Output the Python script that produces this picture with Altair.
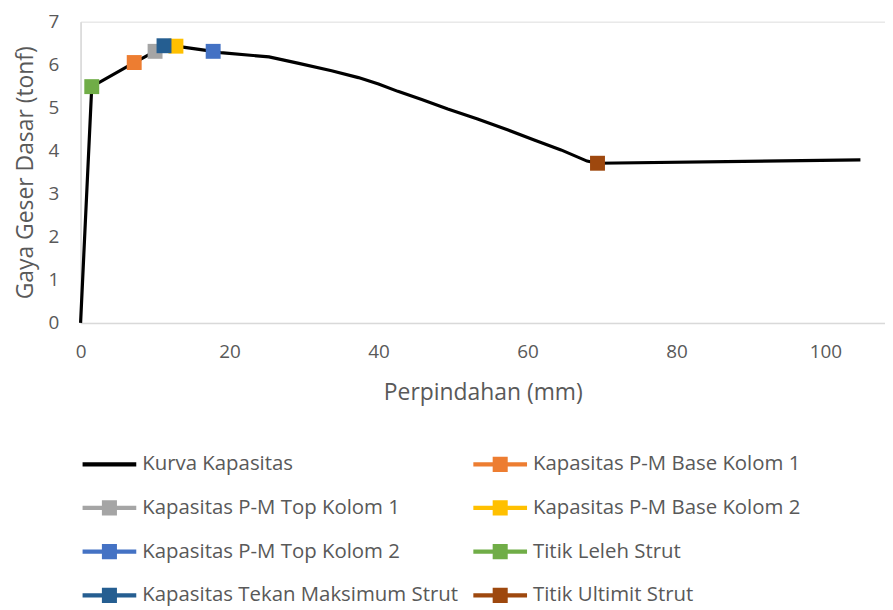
import altair as alt
import pandas as pd

# capacity curve (mm, tonf)
curve_x = [0, 1.5, 7.2, 10.0, 11.2, 12.8, 17.8, 18.8, 25.3, 29.3, 33.7, 37.3, 40.0, 42.6, 45.8,
           49.3, 53.3, 57.4, 60.9, 64.5, 68.0, 69.4, 104.7]
curve_y = [0, 5.49, 6.05, 6.31, 6.44, 6.43, 6.31, 6.28, 6.18, 6.03, 5.86, 5.70, 5.55, 5.38, 5.19,
           4.97, 4.74, 4.48, 4.25, 4.02, 3.76, 3.71, 3.79]

series_names = [
    "Kurva Kapasitas",
    "Kapasitas P-M Base Kolom 1",
    "Kapasitas P-M Top Kolom 1",
    "Kapasitas P-M Base Kolom 2",
    "Kapasitas P-M Top Kolom 2",
    "Titik Leleh Strut",
    "Kapasitas Tekan Maksimum Strut",
    "Titik Ultimit Strut",
]
series_colors = ["#000000", "#ED7D31", "#A5A5A5", "#FFC000", "#4472C4", "#70AD47", "#255E91", "#9E480E"]

marker_names = series_names[1:]
marker_x = [7.2, 10.0, 12.8, 17.8, 1.5, 11.2, 69.4]
marker_y = [6.05, 6.31, 6.43, 6.31, 5.49, 6.44, 3.71]

x_ticks = [0, 20, 40, 60, 80, 100]
y_ticks = [0, 1, 2, 3, 4, 5, 6, 7]

FONT = "Open Sans"
GRAY = "#595959"

# legend fills column-wise: reorder so it reads row-wise like the reference
legend_order = [0, 2, 4, 6, 1, 3, 5, 7]
legend_names = [series_names[i] for i in legend_order]
legend_colors = [series_colors[i] for i in legend_order]

curve_df = pd.DataFrame({"x": curve_x, "y": curve_y})
marker_df = pd.DataFrame({"series": marker_names, "x": marker_x, "y": marker_y,
                          "order": list(range(len(marker_names)))})
legend_df = pd.DataFrame({"series": legend_names, "x": [0] * len(legend_names), "y": [0] * len(legend_names)})

line_path = "M-1,-0.075H1V0.075H-1Z"
line_sq_path = "M-1,-0.075H1V0.075H-1Z M-0.28,-0.28H0.28V0.28H-0.28Z"
shape_range = [line_path if n == "Kurva Kapasitas" else line_sq_path for n in legend_names]

xscale = alt.Scale(domain=[0, 108], nice=False, zero=True)
yscale = alt.Scale(domain=[0, 7], nice=False)

xaxis = alt.Axis(values=x_ticks, title="Perpindahan (mm)", grid=False, ticks=False,
                 domainColor="#D9D9D9", domainWidth=1.5, labelFontSize=19, labelColor=GRAY,
                 labelFont=FONT, titleFont=FONT, titleFontSize=23, titleColor=GRAY,
                 titleFontWeight="normal", labelPadding=20, titlePadding=20, labelFlush=False)
yaxis = alt.Axis(values=y_ticks, title="Gaya Geser Dasar (tonf)", grid=False, ticks=False,
                 domainColor="#D9D9D9", domainWidth=1.5, labelFontSize=19, labelColor=GRAY,
                 labelFont=FONT, titleFont=FONT, titleFontSize=23, titleColor=GRAY,
                 titleFontWeight="normal", labelPadding=22, titlePadding=10, labelFlush=False)

line = alt.Chart(curve_df).mark_line(color="black", strokeWidth=3.2).encode(
    x=alt.X("x:Q", scale=xscale, axis=xaxis),
    y=alt.Y("y:Q", scale=yscale, axis=yaxis),
)

markers = alt.Chart(marker_df).mark_point(shape="square", filled=True, size=225, opacity=1).encode(
    x=alt.X("x:Q", scale=xscale),
    y=alt.Y("y:Q", scale=yscale),
    color=alt.Color("series:N", scale=alt.Scale(domain=legend_names, range=legend_colors), legend=None),
    order=alt.Order("order:Q"),
)

leg = dict(orient="none", legendX=2, legendY=418, columns=2, title=None,
           symbolSize=2916, symbolStrokeWidth=0, symbolOpacity=1,
           labelFontSize=20.5, labelFont=FONT, labelColor=GRAY,
           labelOffset=6, columnPadding=15, rowPadding=6, labelLimit=400)

legend_layer = alt.Chart(legend_df).mark_point(filled=True, opacity=0, size=1).encode(
    x=alt.X("x:Q", scale=xscale),
    y=alt.Y("y:Q", scale=yscale),
    color=alt.Color("series:N", scale=alt.Scale(domain=legend_names, range=legend_colors),
                    legend=alt.Legend(**leg)),
    shape=alt.Shape("series:N", scale=alt.Scale(domain=legend_names, range=shape_range),
                    legend=alt.Legend(**leg)),
)

chart = alt.layer(line, legend_layer, markers).properties(
    width=809, height=303,
    autosize=alt.AutoSizeParams(type="none"),
    padding={"left": 73, "top": 12, "right": 0, "bottom": 287},
).configure_view(stroke=None).configure(background="white")

chart.save("out.html", embed_options={"renderer": "svg", "actions": False})
